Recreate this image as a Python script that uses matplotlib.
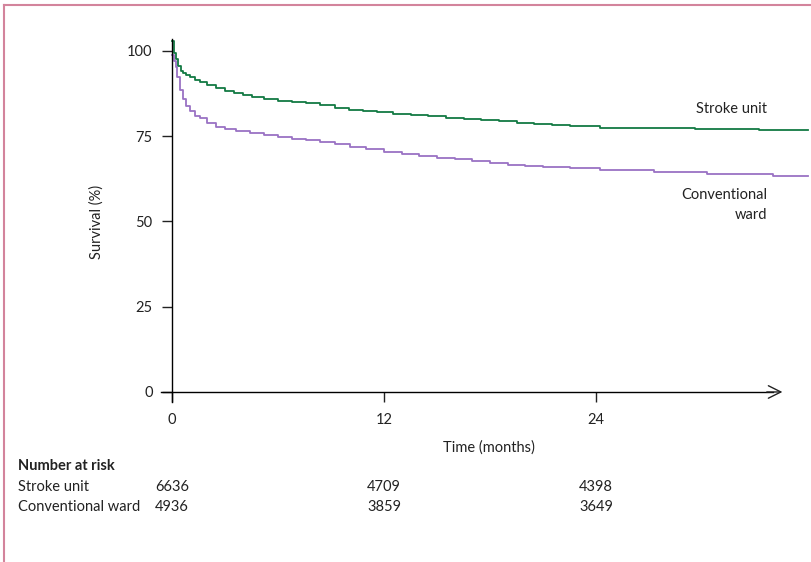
import matplotlib.pyplot as plt
from matplotlib.lines import Line2D

plt.rcParams['font.family'] = ['Lato', 'DejaVu Sans']

# Kaplan-Meier curves (months, survival %)
stroke_t = [0, 0.1, 0.2, 0.35, 0.5, 0.65, 0.8, 1.0, 1.3, 1.6,
            2.0, 2.5, 3.0, 3.5, 4.0, 4.5, 5.2, 6.0, 6.8, 7.6,
            8.4, 9.2, 10.0, 10.8, 11.6, 12.5, 13.5, 14.5, 15.5, 16.5,
            17.5, 18.5, 19.5, 20.5, 21.5, 22.5, 24.2, 29.6, 33.2, 36]
stroke_v = [103, 99.5, 97.5, 95.5, 94.2, 93.6, 92.9, 92.3, 91.4, 90.8,
            90.0, 89.0, 88.2, 87.6, 87.0, 86.4, 85.9, 85.4, 85.0, 84.6,
            84.1, 83.4, 82.8, 82.4, 82.0, 81.6, 81.2, 80.8, 80.4, 80.1,
            79.8, 79.4, 79.0, 78.6, 78.3, 78.0, 77.5, 77.1, 76.8, 76.8]

conv_t = [0, 0.1, 0.2, 0.3, 0.45, 0.6, 0.8, 1.0, 1.3, 1.6,
          2.0, 2.5, 3.0, 3.6, 4.4, 5.2, 6.0, 6.8, 7.6, 8.4,
          9.2, 10.1, 11.0, 12.0, 13.0, 14.0, 15.0, 16.0, 17.0, 18.0,
          19.0, 20.0, 21.0, 22.5, 24.2, 27.3, 30.3, 34.0, 36]
conv_v = [98.8, 97, 95.4, 92.5, 88.6, 86.0, 83.8, 82.3, 81.0, 80.2,
          79.0, 77.8, 77.0, 76.4, 75.9, 75.3, 74.8, 74.3, 73.8, 73.2,
          72.6, 71.8, 71.2, 70.5, 69.9, 69.3, 68.7, 68.2, 67.7, 67.2,
          66.7, 66.2, 65.9, 65.6, 65.0, 64.4, 63.9, 63.3, 63.3]

risk_times = [0, 12, 24]
risk_stroke = [6636, 4709, 4398]
risk_conv = [4936, 3859, 3649]
y_ticks = [0, 25, 50, 75, 100]

green = '#137a43'
purple = '#9a72c4'
ink = '#222222'
W, H = 811, 562

def px(x, y):
    # pixel position (from top-left) -> figure fraction
    return x / W, 1 - y / H

fig = plt.figure(figsize=(8.11, 5.62), dpi=100)
ax = fig.add_axes([161.4 / W, (H - 402.2) / H, 650.3 / W, 363.2 / H])
ax.set_xlim(-0.6, 36.2)
ax.set_ylim(-3, 103.5)

ax.step(stroke_t, stroke_v, where='post', color=green, lw=1.3, clip_on=False)
ax.step(conv_t, conv_v, where='post', color=purple, lw=1.3, clip_on=False)

# axes: left spine through x=0, bottom spine through y=0 with an arrow head
for s in ['top', 'right']:
    ax.spines[s].set_visible(False)
ax.spines['left'].set_position(('data', 0))
ax.spines['left'].set_bounds(-3, 103.5)
ax.spines['left'].set_linewidth(1)
ax.spines['bottom'].set_position(('data', 0))
ax.spines['bottom'].set_bounds(-0.6, 34)
ax.spines['bottom'].set_linewidth(1)
ax.annotate('', xy=(34.7, 0), xytext=(33.5, 0),
            arrowprops=dict(arrowstyle='->,head_length=0.9,head_width=0.45', lw=1, color=ink))

ax.set_yticks(y_ticks)
ax.set_yticklabels([str(v) for v in y_ticks])
ax.set_xticks(risk_times)
ax.set_xticklabels([str(v) for v in risk_times])
ax.tick_params(axis='y', direction='out', length=7, width=1, pad=7, labelsize=10.5, colors=ink)
ax.tick_params(axis='x', direction='out', length=7, width=1, pad=8, labelsize=10.5, colors=ink)

ax.set_ylabel('Survival (%)', fontsize=10.5, color=ink)
ax.yaxis.set_label_coords(-0.088, (50 + 3) / 106.5)

# curve labels
fig.text(*px(767, 109), 'Stroke unit', ha='right', va='center', fontsize=10.5, color=ink)
fig.text(*px(767, 205), 'Conventional\nward', ha='right', va='center', fontsize=10.5,
         color=ink, linespacing=1.5)
fig.text(*px(489, 448), 'Time (months)', ha='center', va='center', fontsize=10.5, color=ink)

# number at risk table
fig.text(*px(18, 466), 'Number at risk', ha='left', va='center', fontsize=10.5,
         fontweight='bold', color=ink)
fig.text(*px(18, 487), 'Stroke unit', ha='left', va='center', fontsize=10.5, color=ink)
fig.text(*px(18, 507), 'Conventional ward', ha='left', va='center', fontsize=10.5, color=ink)
for t, a, b in zip(risk_times, risk_stroke, risk_conv):
    xfig = ax.transData.transform((t, 0))[0] / fig.dpi / fig.get_figwidth()
    fig.text(xfig, px(0, 487)[1], str(a), ha='center', va='center', fontsize=10.5, color=ink)
    fig.text(xfig, px(0, 507)[1], str(b), ha='center', va='center', fontsize=10.5, color=ink)

# pink frame at top and left
frame = '#d3849c'
fig.add_artist(Line2D([4 / W, 1], [1 - 5 / H, 1 - 5 / H], color=frame, lw=1.5, transform=fig.transFigure))
fig.add_artist(Line2D([4 / W, 4 / W], [0, 1 - 5 / H], color=frame, lw=1.5, transform=fig.transFigure))

fig.savefig('out.png', dpi=100)
